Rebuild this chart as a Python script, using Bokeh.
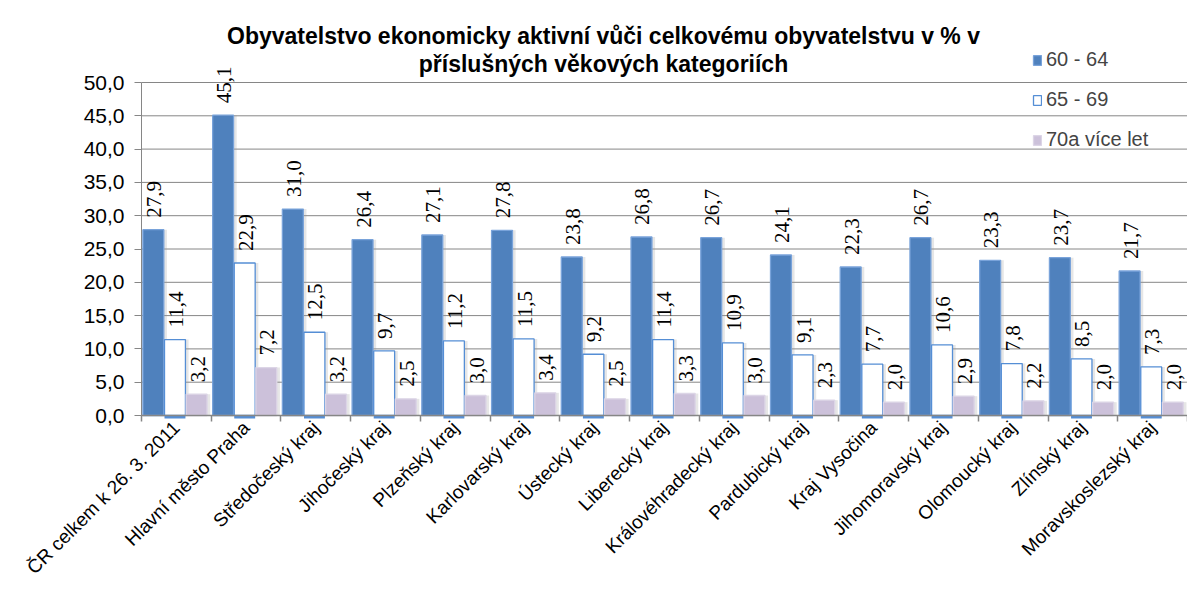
import math
from bokeh.plotting import figure
from bokeh.models import (ColumnDataSource, FixedTicker, LabelSet, Label, Legend, LegendItem)
from bokeh.embed import file_html
from bokeh.resources import INLINE

categories = ["ČR celkem k 26. 3. 2011", "Hlavní město Praha", "Středočeský kraj",
              "Jihočeský kraj", "Plzeňský kraj", "Karlovarský kraj", "Ústecký kraj",
              "Liberecký kraj", "Královéhradecký kraj", "Pardubický kraj", "Kraj Vysočina",
              "Jihomoravský kraj", "Olomoucký kraj", "Zlínský kraj", "Moravskoslezský kraj"]
series_names = ["60 - 64", "65 - 69", "70a více let"]
v6064 = [27.9, 45.1, 31.0, 26.4, 27.1, 27.8, 23.8, 26.8, 26.7, 24.1, 22.3, 26.7, 23.3, 23.7, 21.7]
v6569 = [11.4, 22.9, 12.5, 9.7, 11.2, 11.5, 9.2, 11.4, 10.9, 9.1, 7.7, 10.6, 7.8, 8.5, 7.3]
v70 = [3.2, 7.2, 3.2, 2.5, 3.0, 3.4, 2.5, 3.3, 3.0, 2.3, 2.0, 2.9, 2.2, 2.0, 2.0]
y_ticks = [0, 5, 10, 15, 20, 25, 30, 35, 40, 45, 50]
y_tick_labels = ["0,0", "5,0", "10,0", "15,0", "20,0", "25,0", "30,0", "35,0", "40,0", "45,0", "50,0"]
title_lines = ["Obyvatelstvo ekonomicky aktivní vůči celkovému obyvatelstvu v % v",
               "příslušných věkových kategoriích"]

FONT = "Liberation Sans"
n = len(categories)
offsets = [0.17, 0.48, 0.79]
bw = 0.30
fills = ["#4F81BD", "#FFFFFF", "#CCC1DA"]
lines = ["#79A3DA", "#558ED5", "#DCD5E6"]
GRID = "#868686"

W, H = 1187, 581
x0_px = 141                      # pixel column of the value axis
y0_px, y50_px = 415, 82          # pixel rows of value 0 and value 50
ppu = (y0_px - y50_px) / 50.0
ppc = (W - x0_px) / n
x_range = (-x0_px / ppc, n)
y_range = (-(H - y0_px) / ppu, y0_px / ppu)

p = figure(width=W, height=H, x_range=x_range, y_range=y_range,
           output_backend="svg", toolbar_location=None,
           min_border_left=0, min_border_right=0, min_border_top=0, min_border_bottom=0)
p.outline_line_color = None
p.background_fill_color = "white"
p.border_fill_color = "white"
p.xgrid.grid_line_color = None
p.ygrid.grid_line_color = None

# horizontal grid lines across the category area
p.segment(x0=[0] * len(y_ticks), x1=[n] * len(y_ticks), y0=y_ticks, y1=y_ticks,
          line_color=GRID, line_width=1)

# x axis drawn at value 0
p.xaxis.fixed_location = 0
p.xaxis.bounds = (0, n)
p.xaxis.ticker = FixedTicker(ticks=[i + 0.5 for i in range(n)], minor_ticks=list(range(n + 1)))
p.xaxis.major_label_overrides = {i + 0.5: c for i, c in enumerate(categories)}
p.xaxis.major_label_orientation = math.pi / 4
p.xaxis.major_tick_line_color = None
p.xaxis.minor_tick_line_color = GRID
p.xaxis.minor_tick_line_width = 1.5
p.xaxis.minor_tick_in = 0
p.xaxis.minor_tick_out = 6
p.xaxis.axis_line_color = GRID
p.xaxis.axis_line_width = 1.5
p.xaxis.major_label_text_font = FONT
p.xaxis.major_label_text_font_size = "19px"
p.xaxis.major_label_text_color = "black"
p.xaxis.major_label_standoff = 3

# y axis drawn at category position 0
p.yaxis.fixed_location = 0
p.yaxis.ticker = FixedTicker(ticks=y_ticks, minor_ticks=[])
p.yaxis.bounds = (0, 50)
p.yaxis.major_label_overrides = {t: l for t, l in zip(y_ticks, y_tick_labels)}
p.yaxis.axis_line_color = GRID
p.yaxis.major_tick_line_color = GRID
p.yaxis.major_tick_in = 0
p.yaxis.major_tick_out = 7
p.yaxis.major_label_text_font = FONT
p.yaxis.major_label_text_font_size = "21px"
p.yaxis.major_label_text_color = "black"
p.yaxis.major_label_standoff = 10

series = [v6064, v6569, v70]
renderers = []
for k, vals in enumerate(series):
    xs = [i + offsets[k] for i in range(n)]
    labels = [f"{v:.1f}".replace(".", ",") for v in vals]
    src = ColumnDataSource(dict(x=xs, top=vals, lab=labels,
                                xs=[x + 0.045 for x in xs]))
    # soft shadow
    p.vbar(x="xs", top="top", width=bw, bottom=0, source=src,
           fill_color="#9a9a9a", fill_alpha=0.25, line_color=None)
    if k == 1:
        # 3D base edge under the hollow bars
        p.vbar(x="x", top=0, bottom=-0.45, width=bw, source=src,
               fill_color=lines[1], line_color=None)
    r = p.vbar(x="x", top="top", width=bw, bottom=0, source=src,
               fill_color=fills[k], line_color=lines[k], line_width=1.3)
    renderers.append(r)
    p.add_layout(LabelSet(x="x", y="top", text="lab", source=src, angle=math.pi / 2,
                          text_align="left", text_baseline="middle", y_offset=12, x_offset=1,
                          text_font=FONT, text_font_size="21px", text_color="black"))

legend = Legend(items=[LegendItem(label=series_names[k], renderers=[renderers[k]]) for k in range(3)],
                location=(1032, H - 151), orientation="vertical",
                glyph_width=10, glyph_height=12, label_height=20, spacing=17,
                padding=0, margin=0, label_standoff=4,
                label_text_font=FONT, label_text_font_size="20px",
                background_fill_alpha=0, border_line_color=None)
p.add_layout(legend)

p.add_layout(Label(x=603, y=H - 35, x_units="screen", y_units="screen", text=title_lines[0],
                   text_align="center", text_baseline="alphabetic", text_font=FONT,
                   text_font_style="bold", text_font_size="23px", text_color="black"))
p.add_layout(Label(x=603, y=H - 63, x_units="screen", y_units="screen", text=title_lines[1],
                   text_align="center", text_baseline="alphabetic", text_font=FONT,
                   text_font_style="bold", text_font_size="23px", text_color="black"))

open("out.html", "w").write(file_html(p, INLINE))
